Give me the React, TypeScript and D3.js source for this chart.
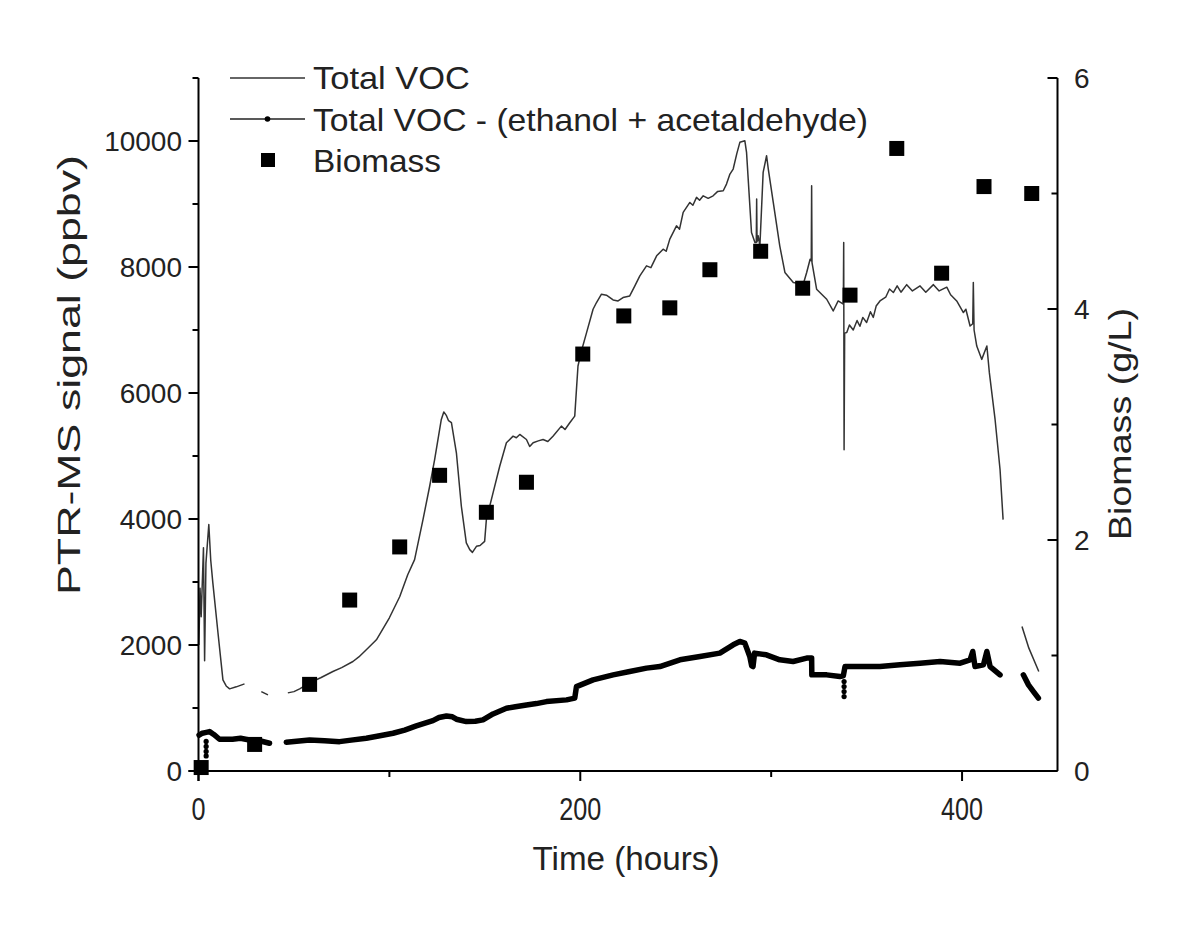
import React from "react";
import * as d3 from "d3";

type Pt = [number, number | null];

// Total VOC (ppbv) vs time (hours); null = gap
const totalVOC: Pt[] = [
  [0.2, 2000], [0.8, 2900], [1.4, 2450], [2.6, 3545], [3.2, 1750], [3.9, 3300], [5.4, 3911], [6.4, 3350],
  [7.5, 2990], [10.2, 2194], [12.8, 1447], [14.5, 1350], [16.3, 1304], [19.8, 1336], [24.1, 1383], [25, null],
  [32.9, 1261], [36.4, 1208], [40, null],
  [46.8, 1240], [50, 1260], [53, 1304], [58.2, 1400], [64, 1480], [70.4, 1579], [75, 1640], [80.9, 1738],
  [84, 1810], [87.9, 1924], [93.2, 2083], [100, 2432], [105.4, 2766], [109.6, 3116], [113.2, 3355],
  [117.6, 3990], [121.1, 4520], [123.7, 4944], [127.2, 5580], [128.5, 5700], [129.9, 5640], [131, 5560],
  [132.5, 5528], [135.1, 5051], [137.7, 4202], [140.3, 3620], [142.1, 3514], [143.5, 3470], [145.6, 3566],
  [147.5, 3580], [149.9, 3645], [150.8, 3990], [154.3, 4415], [157.8, 4838], [161.3, 5210], [164.8, 5315],
  [166.5, 5290], [168.3, 5342], [171.8, 5262], [173.5, 5150], [175.3, 5210], [178, 5240], [180.5, 5262],
  [183, 5230], [185.7, 5315], [190.1, 5474], [192, 5420], [194.5, 5528], [197.1, 5633], [198, 6057],
  [198.8, 6428], [200.6, 6666], [203.3, 6959], [206.7, 7329], [208.5, 7436], [211.1, 7568], [213.7, 7552],
  [217.2, 7477], [219.8, 7461], [222.4, 7515], [225.9, 7541], [228.6, 7700], [231.2, 7859], [234.7, 8018],
  [237, 7990], [240, 8177], [243.4, 8283], [245, 8250], [246.9, 8442], [250.4, 8653], [252, 8600],
  [253.9, 8866], [257.4, 9025], [259, 8980], [260.9, 9105], [262.5, 9060], [264.4, 9130], [267, 9090],
  [269.6, 9130], [272, 9200], [274.9, 9210], [276.6, 9316], [278.4, 9475], [280.1, 9555], [282, 9800],
  [283.6, 9979], [286.2, 10005], [287.1, 9820], [289.7, 8548], [291.5, 8390], [292.2, 8390], [292.4, 9079],
  [292.6, 8400], [293.2, 8495], [294.1, 8336], [295.8, 9502], [297.6, 9766], [298.5, 9555], [301.1, 9026],
  [304.5, 8336], [307.2, 7913], [311.6, 7754], [316.8, 7727], [318.6, 7913], [320.4, 8124], [321.0, 8100],
  [321.2, 9290], [321.4, 8071], [323.8, 7647], [329.1, 7488], [332.5, 7302], [335.1, 7461], [337.8, 7409],
  [338.0, 8390], [338.2, 5100], [338.5, 6950], [339.6, 6959], [341, 7080], [343, 7000], [345, 7150],
  [346.5, 7060], [348, 7200], [350, 7120], [352, 7290], [353.5, 7200], [355, 7380], [357, 7461], [360, 7520],
  [362, 7650], [364, 7595], [366, 7700], [368, 7600], [371, 7720], [374, 7620], [378, 7700], [381, 7600],
  [385, 7720], [388, 7620], [392, 7680], [394, 7560], [397.2, 7461], [400.7, 7277], [402, 7330],
  [404.2, 7064], [405.6, 7100], [405.9, 7754], [406.3, 7000], [407.7, 6746], [410.3, 6534], [413, 6746],
  [414.3, 6323], [417.3, 5580], [419.9, 4785], [421.5, 3990], [425, null],
  [431.4, 2295], [435, 1950], [440.2, 1579],
];

// Total VOC - (ethanol + acetaldehyde) (ppbv)
const vocMinus: Pt[] = [
  [0.3, 570], [2, 600], [3.5, 610], [5.8, 625], [8, 580], [11, 504], [17.8, 504], [22, 520], [26.7, 493],
  [32, 480], [37.2, 440], [40, null],
  [46, 456], [58.2, 493], [66, 480], [73.9, 466], [80, 490], [87.9, 520], [95, 560], [101.9, 599], [108, 650],
  [114.1, 715], [122.8, 800], [126, 850], [129.9, 874], [133, 860], [135.1, 822], [140.3, 784], [145, 790],
  [149, 811], [154.3, 906], [161.3, 997], [166, 1020], [171.8, 1049], [177, 1070], [182.3, 1102],
  [192.8, 1129], [197.1, 1156], [198, 1340], [206.7, 1447], [217.2, 1526], [225.9, 1579], [234.7, 1633],
  [241.7, 1658], [252.2, 1765], [262.7, 1817], [273.1, 1871], [280.1, 2003], [283.6, 2056], [286.2, 2030],
  [288.8, 1817], [289.8, 1669], [290.5, 1658], [291.3, 1871], [297.5, 1844], [304.5, 1765], [311.5, 1738],
  [318.6, 1792], [321.2, 1792], [321.3, 1526], [329.1, 1526], [336, 1499], [337.8, 1510], [338.7, 1658],
  [346.5, 1658], [357, 1658], [367.5, 1685], [378, 1712], [388.5, 1738], [399, 1712], [404.2, 1765],
  [405.6, 1897], [406.8, 1658], [411.2, 1685], [413, 1897], [414.7, 1658], [419.9, 1526], [425, null],
  [432.1, 1526], [434.8, 1367], [437.4, 1261], [440, 1156],
];

// isolated data dots of the second series where it drops
const vocMinusDrops: [number, number][] = [
  [4, 470], [4, 390], [4, 310], [4, 240],
  [338.2, 1420], [338.2, 1340], [338.2, 1260], [338.2, 1181],
];

// Biomass (g/L)
const biomassTime = [1.4, 29.4, 58.2, 79.2, 105.4, 126.3, 150.8, 171.8, 201.3, 222.8, 246.9, 267.9, 294.5, 316.5, 341.3, 365.8, 389.3, 411.5, 436.5];
const biomassValue = [0.03, 0.23, 0.75, 1.48, 1.94, 2.56, 2.24, 2.5, 3.61, 3.94, 4.01, 4.34, 4.5, 4.18, 4.12, 5.39, 4.31, 5.06, 5.0];

const xMajor = [0, 200, 400];
const xMinor = [100, 300];
const yLeftMajor = [0, 2000, 4000, 6000, 8000, 10000];
const yLeftMinor = [1000, 3000, 5000, 7000, 9000, 11000];
const yRightMajor = [0, 2, 4, 6];
const yRightMinor = [1, 3, 5];

const FONT = "'Liberation Sans', Arial, Helvetica, sans-serif";

export default function App() {
  const x = d3.scaleLinear().domain([0, 450]).range([198.5, 1057.5]);
  const yL = d3.scaleLinear().domain([0, 11000]).range([771, 78]);
  const yR = d3.scaleLinear().domain([0, 6]).range([771, 78]);

  const line = d3
    .line<Pt>()
    .defined((d) => d[1] !== null)
    .x((d) => x(d[0]))
    .y((d) => yL(d[1] as number));

  const left = x(0);
  const right = x(450);
  const bottom = yL(0);
  const top = yL(11000);

  return (
    <svg width={1200} height={941} style={{ position: "absolute", left: 0, top: 0, background: "#fff" }} fontFamily={FONT}>
      <rect width={1200} height={941} fill="#fff" />
      {/* data */}
      <path d={line(vocMinus) || ""} fill="none" stroke="#000" strokeWidth={5.5} strokeLinejoin="round" strokeLinecap="round" />
      {vocMinusDrops.map((d, i) => (
        <circle key={"dd" + i} cx={x(d[0])} cy={yL(d[1])} r={2.6} fill="#000" />
      ))}
      <path d={line(totalVOC) || ""} fill="none" stroke="#333" strokeWidth={1.5} strokeLinejoin="round" />
      {biomassTime.map((t, i) => (
        <rect key={"b" + i} x={x(t) - 7.5} y={yR(biomassValue[i]) - 7.5} width={15} height={15} fill="#000" />
      ))}

      {/* axes */}
      <g stroke="#000" strokeWidth={2} fill="none">
        <line x1={left} x2={left} y1={top} y2={bottom + 10} />
        <line x1={left - 10} x2={right} y1={bottom} y2={bottom} />
        <line x1={right} x2={right} y1={top} y2={bottom} />
        {yLeftMajor.map((v) => (
          <line key={"ylm" + v} x1={left - 10} x2={left} y1={yL(v)} y2={yL(v)} />
        ))}
        {yLeftMinor.map((v) => (
          <line key={"yln" + v} x1={left - 6} x2={left} y1={yL(v)} y2={yL(v)} />
        ))}
        {xMajor.map((v) => (
          <line key={"xm" + v} x1={x(v)} x2={x(v)} y1={bottom} y2={bottom + 10} />
        ))}
        {xMinor.map((v) => (
          <line key={"xn" + v} x1={x(v)} x2={x(v)} y1={bottom} y2={bottom + 6} />
        ))}
        {yRightMajor.map((v) => (
          <line key={"yrm" + v} x1={right - 10} x2={right} y1={yR(v)} y2={yR(v)} />
        ))}
        {yRightMinor.map((v) => (
          <line key={"yrn" + v} x1={right - 6} x2={right} y1={yR(v)} y2={yR(v)} />
        ))}
      </g>

      {/* tick labels */}
      <g fill="#222" fontSize={28}>
        {yLeftMajor.map((v) => (
          <text key={"tyl" + v} x={182} y={yL(v) + 10} textAnchor="end">{v}</text>
        ))}
        {yRightMajor.map((v) => (
          <text key={"tyr" + v} x={1074} y={yR(v) + 10} textAnchor="start">{v}</text>
        ))}
      </g>
      <g fill="#222" fontSize={31}>
        {xMajor.map((v) => (
          <text key={"tx" + v} x={x(v)} y={820} textAnchor="middle" textLength={String(v).length * 14} lengthAdjust="spacingAndGlyphs">{v}</text>
        ))}
      </g>

      {/* axis titles */}
      <text x={626} y={870} textAnchor="middle" fontSize={34} fill="#222" textLength={187} lengthAdjust="spacingAndGlyphs">Time (hours)</text>
      <text transform="translate(80,375) rotate(-90)" textAnchor="middle" fontSize={31} fill="#222" textLength={440} lengthAdjust="spacingAndGlyphs">PTR-MS signal (ppbv)</text>
      <text transform="translate(1131,424) rotate(-90)" textAnchor="middle" fontSize={31} fill="#222" textLength={232} lengthAdjust="spacingAndGlyphs">Biomass (g/L)</text>

      {/* legend */}
      <line x1={230} x2={305} y1={78} y2={78} stroke="#333" strokeWidth={1.5} />
      <text x={313} y={89} fontSize={32} fill="#222" textLength={157} lengthAdjust="spacingAndGlyphs">Total VOC</text>
      <line x1={230} x2={305} y1={119} y2={119} stroke="#222" strokeWidth={1.5} />
      <circle cx={267.5} cy={119} r={2.8} fill="#000" />
      <text x={313} y={131} fontSize={32} fill="#222" textLength={555} lengthAdjust="spacingAndGlyphs">Total VOC - (ethanol + acetaldehyde)</text>
      <rect x={261} y={153} width={14} height={14} fill="#000" />
      <text x={313} y={172} fontSize={32} fill="#222" textLength={128} lengthAdjust="spacingAndGlyphs">Biomass</text>
    </svg>
  );
}
